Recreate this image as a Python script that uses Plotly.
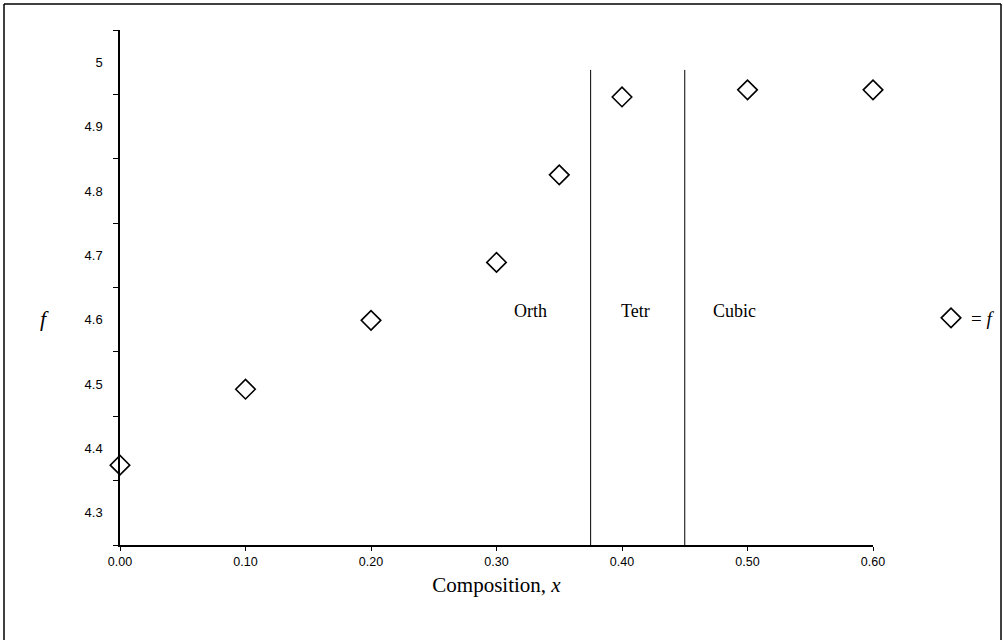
import plotly.graph_objects as go

# Data
composition = [0.00, 0.10, 0.20, 0.30, 0.35, 0.40, 0.50, 0.60]
f_values = [4.374, 4.492, 4.599, 4.689, 4.825, 4.946, 4.957, 4.957]

phase_boundaries = [0.375, 0.45]
boundary_top = 4.988
boundary_bottom = 4.25

phase_labels = ["Orth", "Tetr", "Cubic"]
phase_label_x = [0.327, 0.411, 0.49]
phase_label_y = 4.613

y_ticks = [4.3, 4.4, 4.5, 4.6, 4.7, 4.8, 4.9, 5.0]
y_tick_text = ["4.3", "4.4", "4.5", "4.6", "4.7", "4.8", "4.9", "5"]
y_minor_ticks = [4.25, 4.35, 4.45, 4.55, 4.65, 4.75, 4.85, 4.95, 5.05]
x_ticks = [0.0, 0.1, 0.2, 0.3, 0.4, 0.5, 0.6]
x_tick_text = ["0.00", "0.10", "0.20", "0.30", "0.40", "0.50", "0.60"]

serif = "Liberation Serif, Times New Roman, serif"
sans = "Liberation Sans, Arial, sans-serif"

fig = go.Figure()

for xb in phase_boundaries:
    fig.add_trace(go.Scatter(
        x=[xb, xb], y=[boundary_bottom, boundary_top], mode="lines",
        line=dict(color="black", width=1), showlegend=False, hoverinfo="skip"))

fig.add_trace(go.Scatter(
    x=composition, y=f_values, mode="markers", name="= <i>f</i>",
    marker=dict(symbol="diamond-open", size=15, color="black",
                line=dict(color="black", width=1.6)),
    cliponaxis=False))

for lab, lx in zip(phase_labels, phase_label_x):
    fig.add_annotation(x=lx, y=phase_label_y, text=lab, showarrow=False,
                       font=dict(family=serif, size=18, color="black"))

# y-axis label "f"
fig.add_annotation(xref="paper", yref="paper", x=(38 - 120) / 753, y=(545 - 318) / 515,
                   text="<i>f</i>", showarrow=False,
                   font=dict(family=serif, size=22, color="black"))

fig.update_layout(
    width=1004, height=640,
    margin=dict(l=120, r=131, t=30, b=95, autoexpand=False),
    paper_bgcolor="white", plot_bgcolor="white",
    xaxis=dict(
        range=[0, 0.6], tickvals=x_ticks, ticktext=x_tick_text,
        showline=True, linecolor="black", linewidth=1.5,
        ticks="outside", ticklen=4, tickcolor="black", tickwidth=1.2,
        showgrid=False, zeroline=False,
        tickfont=dict(family=sans, size=12.5, color="black"),
        title=dict(text="Composition, <i>x</i>", standoff=10,
                   font=dict(family=serif, size=21, color="black")),
    ),
    yaxis=dict(
        range=[4.25, 5.05], tickvals=y_ticks, ticktext=y_tick_text,
        showline=True, linecolor="black", linewidth=1.5,
        ticks="", showgrid=False, zeroline=False,
        ticklabelstandoff=13,
        tickfont=dict(family=sans, size=13, color="black"),
        minor=dict(tickmode="array", tickvals=y_minor_ticks, ticks="outside",
                   ticklen=5, tickcolor="black", tickwidth=1.2, showgrid=False),
    ),
    legend=dict(x=(931 - 120) / 753, y=(545 - 318) / 515, xanchor="left", yanchor="middle",
                font=dict(family=serif, size=19, color="black"),
                bgcolor="rgba(0,0,0,0)", itemwidth=30),
    shapes=[
        dict(type="line", xref="paper", yref="paper",
             x0=(4 - 120) / 753, x1=(4 - 120) / 753, y0=(545 - 4) / 515, y1=(545 - 650) / 515,
             line=dict(color="black", width=1.5)),
        dict(type="line", xref="paper", yref="paper",
             x0=(4 - 120) / 753, x1=(1001 - 120) / 753, y0=(545 - 4) / 515, y1=(545 - 4) / 515,
             line=dict(color="black", width=1.5)),
        dict(type="line", xref="paper", yref="paper",
             x0=(1001 - 120) / 753, x1=(1001 - 120) / 753, y0=(545 - 4) / 515, y1=(545 - 650) / 515,
             line=dict(color="black", width=1.5)),
    ],
)

fig.write_html("out.html")
